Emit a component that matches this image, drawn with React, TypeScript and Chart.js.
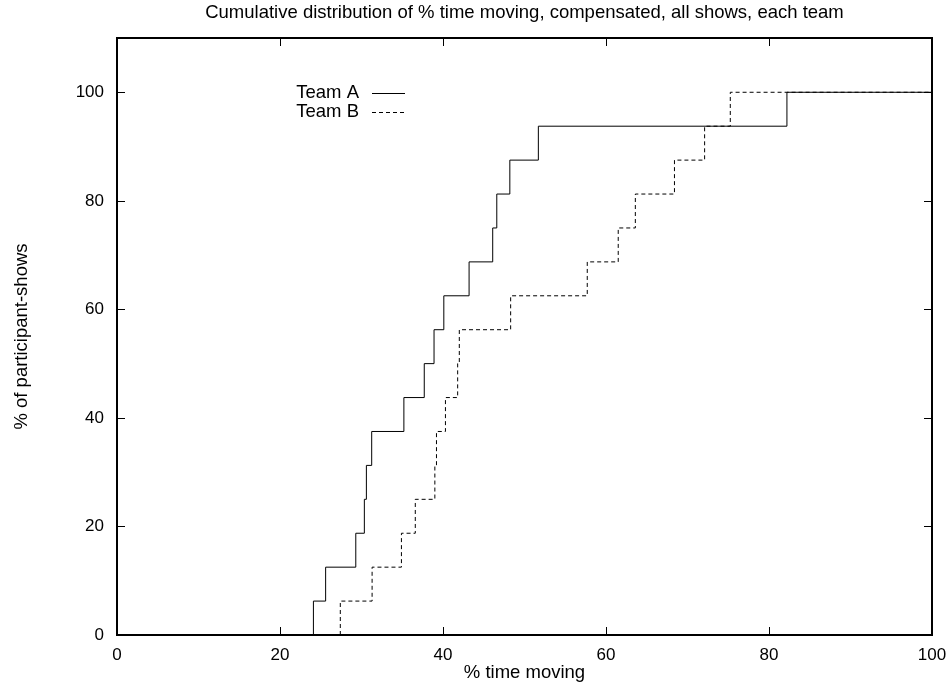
import React, { useEffect, useRef } from "react";
import { Chart, registerables } from "chart.js";

Chart.register(...registerables);

const TITLE = "Cumulative distribution of % time moving, compensated, all shows, each team";
const X_LABEL = "% time moving";
const Y_LABEL = "% of participant-shows";
const SERIES_NAMES = ["Team A", "Team B"];

// x-positions (% time moving) where each cumulative step occurs
const TEAM_A_X = [24.1, 25.6, 29.3, 30.35, 30.6, 31.25, 35.2, 37.7, 38.9, 40.1, 43.2, 46.1, 46.6, 48.2, 51.7, 82.2];
const TEAM_B_X = [27.4, 31.3, 34.9, 36.6, 39.0, 39.2, 40.3, 41.8, 42.0, 48.3, 57.7, 61.5, 63.6, 68.4, 72.1, 75.25];
// cumulative % of participant-shows after each step
const CUM_PCT = [6.25, 12.5, 18.75, 25, 31.25, 37.5, 43.75, 50, 56.25, 62.5, 68.75, 75, 81.25, 87.5, 93.75, 100];

const X_TICKS = [0, 20, 40, 60, 80, 100];
const Y_TICKS = [0, 20, 40, 60, 80, 100];
const X_MIN = 0;
const X_MAX = 100;
const Y_MIN = 0;
const Y_MAX = 110;

const FONT = '"Liberation Sans", Arial, Helvetica, sans-serif';
const TICK_SIZE = 17;
const LABEL_SIZE = 18.5;
const TITLE_SIZE = 18.5;

function buildSteps(xs: number[]) {
  const pts = [{ x: xs[0], y: Y_MIN }];
  xs.forEach((x, i) => pts.push({ x, y: CUM_PCT[i] }));
  pts.push({ x: X_MAX, y: CUM_PCT[CUM_PCT.length - 1] });
  return pts;
}

const framePlugin = {
  id: "gnuFrame",
  afterDatasetsDraw(chart: any, _args: any, opts: any) {
    const { ctx, chartArea, scales } = chart;
    const { left, right, top, bottom } = chartArea;
    const xs = scales.x;
    const ys = scales.y;
    ctx.save();
    ctx.strokeStyle = "#000";
    ctx.setLineDash([]);
    // inward ticks on all four sides
    ctx.lineWidth = 1;
    const tl = opts.tickLen;
    ctx.beginPath();
    X_TICKS.forEach((v) => {
      const px = Math.round(xs.getPixelForValue(v)) + 0.5;
      ctx.moveTo(px, bottom);
      ctx.lineTo(px, bottom - tl);
      ctx.moveTo(px, top);
      ctx.lineTo(px, top + tl);
    });
    Y_TICKS.forEach((v) => {
      const py = Math.round(ys.getPixelForValue(v)) + 0.5;
      ctx.moveTo(left, py);
      ctx.lineTo(left + tl, py);
      ctx.moveTo(right, py);
      ctx.lineTo(right - tl, py);
    });
    ctx.stroke();
    // frame
    ctx.lineWidth = opts.frameWidth;
    ctx.strokeRect(left, top, right - left, bottom - top);

    // legend (gnuplot style: label then sample)
    ctx.font = `${LABEL_SIZE}px ${FONT}`;
    ctx.fillStyle = "#000";
    ctx.textAlign = "right";
    ctx.textBaseline = "middle";
    chart.data.datasets.forEach((ds: any, i: number) => {
      const y = opts.legendY + i * opts.legendGap;
      ctx.fillText(ds.label, opts.legendTextRight, y);
      ctx.lineWidth = 1;
      ctx.setLineDash(ds.borderDash || []);
      ctx.beginPath();
      ctx.moveTo(opts.legendLineStart, Math.round(y) + 0.5);
      ctx.lineTo(opts.legendLineEnd, Math.round(y) + 0.5);
      ctx.stroke();
      ctx.setLineDash([]);
    });
    ctx.restore();
  },
};

export default function App() {
  const ref = useRef<HTMLCanvasElement | null>(null);

  useEffect(() => {
    if (!ref.current) return;
    const chart = new Chart(ref.current, {
      type: "line",
      data: {
        datasets: [
          {
            label: SERIES_NAMES[0],
            data: buildSteps(TEAM_A_X),
            borderColor: "#000",
            borderWidth: 1,
            stepped: "before",
            pointRadius: 0,
            fill: false,
          },
          {
            label: SERIES_NAMES[1],
            data: buildSteps(TEAM_B_X),
            borderColor: "#000",
            borderWidth: 1,
            borderDash: [4, 3],
            stepped: "before",
            pointRadius: 0,
            fill: false,
          },
        ],
      },
      options: {
        animation: false,
        responsive: false,
        events: [],
        layout: { padding: { left: 0, right: 20, top: 0, bottom: 0 } },
        scales: {
          x: {
            type: "linear",
            min: X_MIN,
            max: X_MAX,
            grid: { display: false, drawTicks: false },
            border: { display: false },
            afterBuildTicks: (s: any) => {
              s.ticks = X_TICKS.map((v) => ({ value: v }));
            },
            afterFit: (s: any) => {
              s.height = 47;
              s.paddingLeft = 0;
              s.paddingRight = 0;
            },
            ticks: {
              color: "#000",
              padding: 10,
              maxRotation: 0,
              font: { family: FONT, size: TICK_SIZE },
            },
            title: {
              display: true,
              text: X_LABEL,
              color: "#000",
              padding: { top: 0, bottom: -2 },
              font: { family: FONT, size: LABEL_SIZE },
            },
          },
          y: {
            type: "linear",
            min: Y_MIN,
            max: Y_MAX,
            grid: { display: false, drawTicks: false },
            border: { display: false },
            afterBuildTicks: (s: any) => {
              s.ticks = Y_TICKS.map((v) => ({ value: v }));
            },
            afterFit: (s: any) => {
              s.width = 117;
              s.paddingTop = 0;
              s.paddingBottom = 0;
            },
            ticks: {
              color: "#000",
              padding: 13,
              font: { family: FONT, size: TICK_SIZE },
            },
            title: {
              display: true,
              text: Y_LABEL,
              color: "#000",
              padding: { top: 11, bottom: 0 },
              font: { family: FONT, size: LABEL_SIZE },
            },
          },
        },
        plugins: {
          legend: { display: false },
          tooltip: { enabled: false },
          title: {
            display: true,
            text: TITLE,
            color: "#000",
            fullSize: false,
            padding: { top: 1.9, bottom: 13.9 },
            font: { family: FONT, size: TITLE_SIZE, weight: "normal" },
          },
          gnuFrame: {
            tickLen: 8,
            frameWidth: 2,
            legendY: 92.7,
            legendGap: 19,
            legendTextRight: 359,
            legendLineStart: 372,
            legendLineEnd: 405,
          },
        } as any,
      },
      plugins: [framePlugin],
    });
    return () => chart.destroy();
  }, []);

  return (
    <div style={{ position: "absolute", left: 0, top: 0, width: 952, height: 682, background: "#fff" }}>
      <canvas ref={ref} width={952} height={682} style={{ display: "block" }} />
    </div>
  );
}
